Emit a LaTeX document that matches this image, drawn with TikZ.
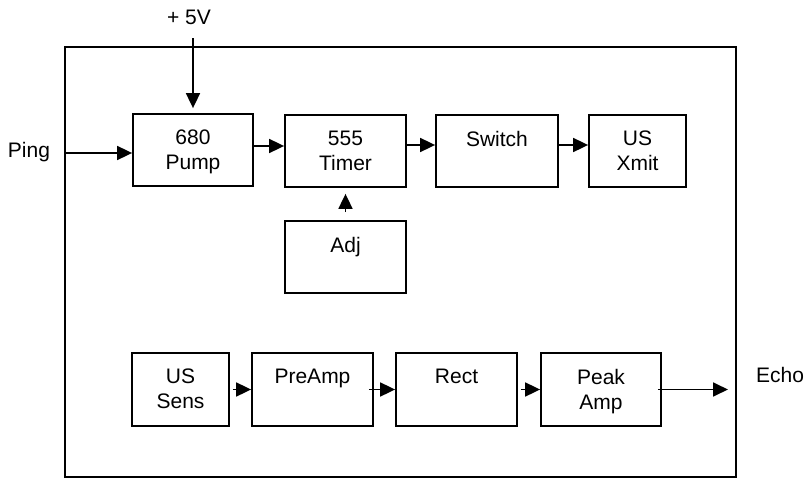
\documentclass[tikz,border=0pt]{standalone}
\usepackage{fontspec}
\setmainfont{Liberation Sans}
\usetikzlibrary{arrows.meta}
\begin{document}
\begin{tikzpicture}[x=1pt,y=-1pt,
  every node/.style={font=\fontsize{21}{25}\selectfont},
  blk/.style={draw, line width=1.8pt, minimum height=72pt, inner sep=0pt},
  blktext/.style={anchor=north, yshift=-17pt, align=center, inner sep=0pt},
  arr/.style={line width=1.8pt, -{Triangle[length=15pt,width=14pt]}},
  outer/.style={draw, line width=1.4pt, inner sep=0pt}]
\useasboundingbox (0,0) rectangle (804,479);

% enclosing frame
\node[outer, minimum width=671pt, minimum height=430pt] (frame) at (400.5,262) {};

% transmit chain
\node[blk, minimum width=120pt, label={[blktext]north:680\\Pump}] (pump) at (193,150) {};
\node[blk, minimum width=121pt, label={[blktext]north:555\\Timer}] (timer) at (345.5,151) {};
\node[blk, minimum width=122pt, label={[blktext]north:Switch}] (switch) at (497,151) {};
\node[blk, minimum width=97pt, label={[blktext]north:US\\Xmit}] (xmit) at (637.5,151) {};
\node[blk, minimum width=121pt, label={[blktext]north:Adj}] (adj) at (345.5,257) {};

% receive chain
\node[blk, minimum width=97pt, minimum height=73pt, label={[blktext]north:US\\Sens}] (sens) at (180.5,389.5) {};
\node[blk, minimum width=121pt, minimum height=73pt, label={[blktext]north:PreAmp}] (preamp) at (312.5,389.5) {};
\node[blk, minimum width=121pt, minimum height=73pt, label={[blktext]north:Rect}] (rect) at (456.5,389.5) {};
\node[blk, minimum width=120pt, minimum height=73pt, label={[blktext]north:Peak\\Amp}] (peak) at (601,389.5) {};

% external signals
\node (vlabel) at (189,17) {+ 5V};
\node (ping) at (29,152) {Ping};
\node[anchor=west, inner sep=0pt] (echo) at (756,375) {Echo};
\coordinate (vin) at (193,38);
\coordinate (pingin) at (65,153);
\coordinate (echoout) at (728,389.5);

% connectors
\draw[arr, shorten >=5pt] (vin) -- (vin |- pump.north);
\draw[arr] (pingin) -- (pingin -| pump.west);
\draw[arr] ([yshift=4pt]pump.east) -- ([yshift=4pt]pump.east -| timer.west);
\draw[arr] ([yshift=6pt]timer.east) -- ([yshift=6pt]timer.east -| switch.west);
\draw[arr] ([yshift=6pt]switch.east) -- ([yshift=6pt]switch.east -| xmit.west);
\draw[arr, shorten <=8pt, shorten >=6pt] (adj.north) -- (timer.south);

\draw[arr, shorten <=3pt] (sens.east) -- (preamp.west);
\draw[arr, shorten <=-5pt] (preamp.east) -- (rect.west);
\draw[arr, shorten <=3pt] (rect.east) -- (peak.west);
\draw[arr, shorten <=-4pt] (peak.east) -- (echoout);
\end{tikzpicture}
\end{document}
